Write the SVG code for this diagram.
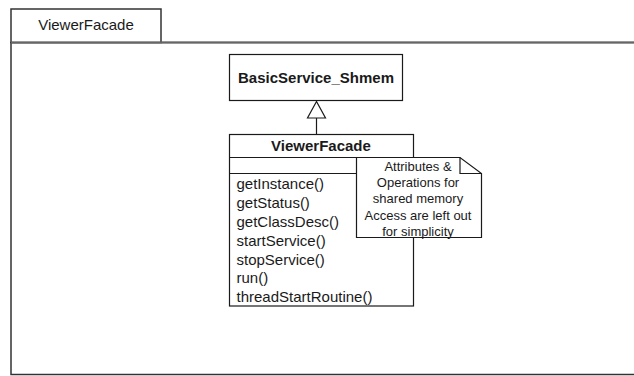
<svg xmlns="http://www.w3.org/2000/svg" width="634" height="376" viewBox="0 0 634 376">
  <style>
    .frame { fill: #ffffff; stroke: #333333; stroke-width: 1.5; }
    .box { fill: #ffffff; stroke: #1a1a1a; stroke-width: 1.2; }
    .sep { stroke: #1a1a1a; stroke-width: 1.2; }
    .title { font-family: "Liberation Sans", Arial, sans-serif; font-size: 15px; font-weight: bold; fill: #1a1a1a; text-anchor: middle; }
    .label { font-family: "Liberation Sans", Arial, sans-serif; font-size: 15px; fill: #1a1a1a; }
    .note-text { font-family: "Liberation Sans", Arial, sans-serif; font-size: 13px; fill: #1a1a1a; text-anchor: middle; }
  </style>

  <rect width="634" height="376" fill="#ffffff"/>

  <!-- package frame with its name tab -->
  <g id="package">
    <rect class="frame" x="11" y="42.5" width="640" height="332"/>
    <rect class="frame" x="11" y="9" width="150" height="33.5"/>
    <line x1="11" y1="42.5" x2="634" y2="42.5" stroke="#666666" stroke-width="2"/>
    <text class="label" x="86" y="30" text-anchor="middle">ViewerFacade</text>
  </g>

  <!-- superclass -->
  <g id="basicservice">
    <rect class="box" x="229.5" y="54.5" width="173" height="46"/>
    <text class="title" x="316" y="82.5">BasicService_Shmem</text>
  </g>

  <!-- generalization connector -->
  <g id="connectors">
    <line x1="316.5" y1="118" x2="316.5" y2="134.5" stroke="#1a1a1a" stroke-width="1.2"/>
    <polygon points="316.5,101.5 307.5,118 325.5,118" fill="#ffffff" stroke="#1a1a1a" stroke-width="1.2"/>
  </g>

  <!-- class with attribute and operation compartments -->
  <g id="viewerfacade">
    <rect class="box" x="229.5" y="134.5" width="184" height="171.5"/>
    <line class="sep" x1="229.5" y1="157.5" x2="413.5" y2="157.5"/>
    <line class="sep" x1="229.5" y1="173.5" x2="413.5" y2="173.5"/>
    <text class="title" x="321" y="151">ViewerFacade</text>
    <text class="label" x="236.5" y="189">getInstance()</text>
    <text class="label" x="236.5" y="207.5">getStatus()</text>
    <text class="label" x="236.5" y="226.5">getClassDesc()</text>
    <text class="label" x="236.5" y="245.5">startService()</text>
    <text class="label" x="236.5" y="264.5">stopService()</text>
    <text class="label" x="236.5" y="283">run()</text>
    <text class="label" x="236.5" y="302">threadStartRoutine()</text>
  </g>

  <!-- comment note with folded corner -->
  <g id="note">
    <path class="box" d="M356.5,157.5 H460 L481.5,173.5 V237.5 H356.5 Z"/>
    <path d="M460,157.5 V173.5 H481.5" fill="none" stroke="#1a1a1a" stroke-width="1.2"/>
    <text class="note-text" x="418" y="170.5">Attributes &amp;</text>
    <text class="note-text" x="418" y="186.5">Operations for</text>
    <text class="note-text" x="418" y="203">shared memory</text>
    <text class="note-text" x="418" y="219.5">Access are left out</text>
    <text class="note-text" x="418" y="235.5">for simplicity</text>
  </g>
</svg>
